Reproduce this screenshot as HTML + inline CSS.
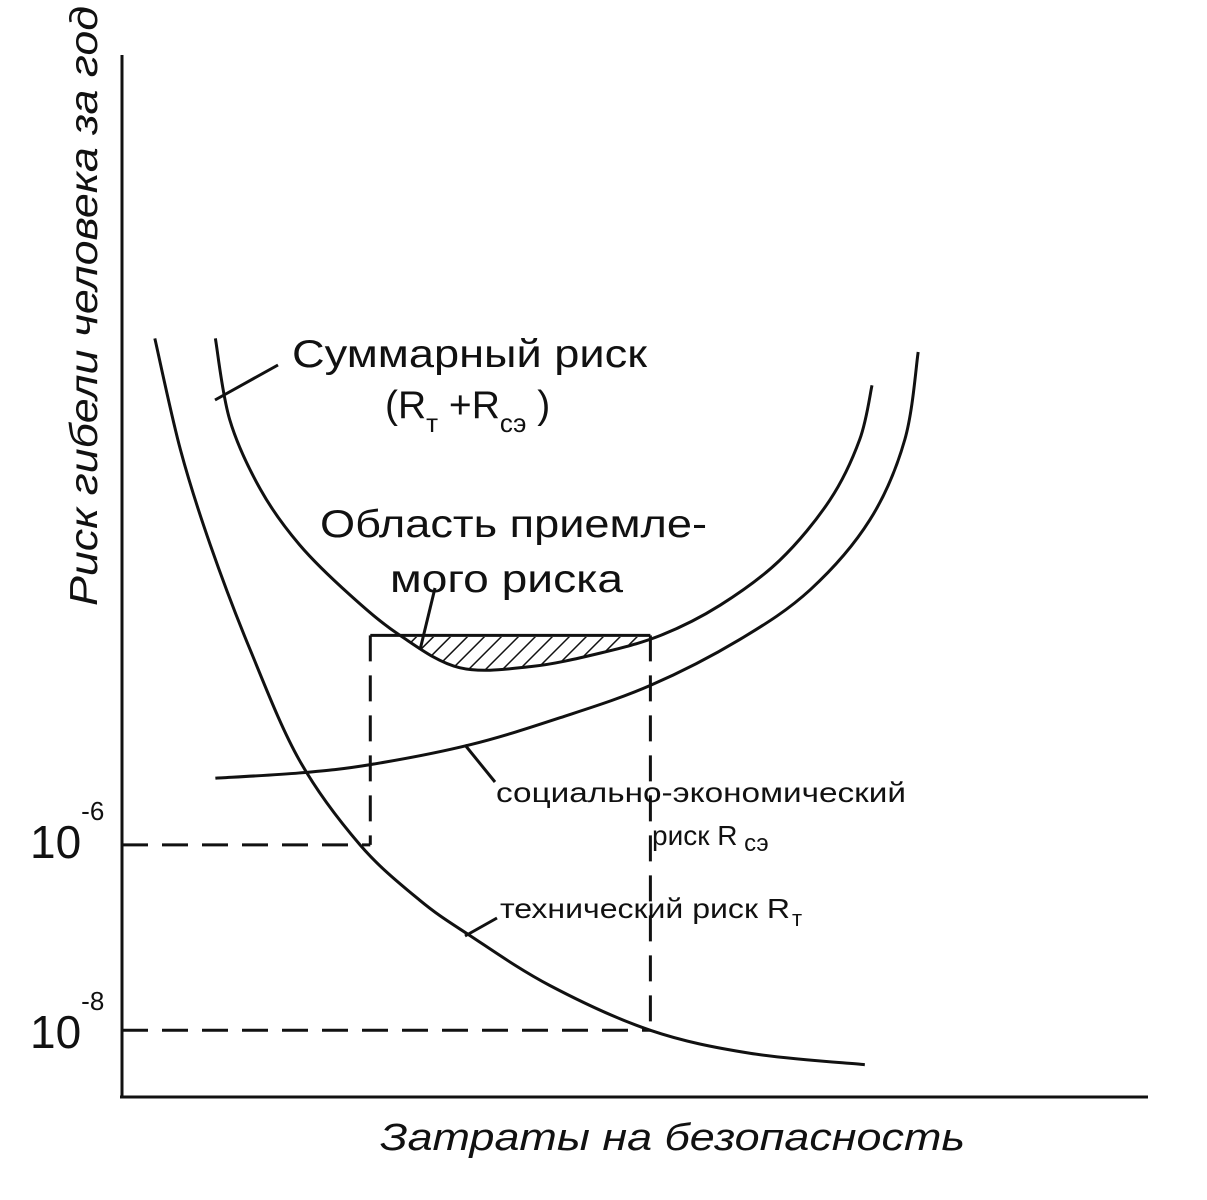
<!DOCTYPE html>
<html><head><meta charset="utf-8"><style>
html,body{margin:0;padding:0;background:#fff}
svg{display:block}
text{font-family:"Liberation Sans",sans-serif;fill:#111}
</style></head><body>
<svg id="chart" width="1207" height="1200" viewBox="0 0 1207 1200">
<defs>
<pattern id="hatch" patternUnits="userSpaceOnUse" width="12" height="12" patternTransform="rotate(45)">
<line x1="0" y1="0" x2="0" y2="12" stroke="#111" stroke-width="3"/></pattern>
<clipPath id="hclip"><rect x="372" y="637" width="280" height="80"/></clipPath>
</defs>
<g id="axes">
<line x1="122" y1="55" x2="122" y2="1098" stroke="#111" stroke-width="3"/>
<line x1="120" y1="1097" x2="1148" y2="1097" stroke="#111" stroke-width="3"/>
</g>
<g id="marks"></g>
<g id="labels">
<text transform="translate(97,606) rotate(-90)" font-size="39" font-style="italic" textLength="600" lengthAdjust="spacingAndGlyphs">Риск гибели человека за год</text>
<text x="380" y="1150" font-size="38" font-style="italic" textLength="585" lengthAdjust="spacingAndGlyphs">Затраты на безопасность</text>
<text x="30" y="858" font-size="46">10<tspan font-size="26" dy="-38">-6</tspan></text>
<text x="30" y="1048" font-size="46">10<tspan font-size="26" dy="-38">-8</tspan></text>
<text x="292" y="367" font-size="39" textLength="355" lengthAdjust="spacingAndGlyphs">Суммарный риск</text>
<text x="385" y="418" font-size="39">(R<tspan font-size="26" dy="14">т</tspan><tspan dy="-14"> +R</tspan><tspan font-size="26" dy="14">сэ</tspan><tspan dy="-14"> )</tspan></text>
<text x="320" y="537" font-size="39" textLength="387" lengthAdjust="spacingAndGlyphs">Область приемле-</text>
<text x="390" y="592" font-size="39" textLength="233" lengthAdjust="spacingAndGlyphs">мого риска</text>
<text x="496" y="802" font-size="28" textLength="410" lengthAdjust="spacingAndGlyphs">социально-экономический</text>
<text x="652" y="845" font-size="28">риск R<tspan font-size="24" dy="6"> сэ</tspan></text>
<text x="500" y="918" font-size="28" textLength="290" lengthAdjust="spacingAndGlyphs">технический риск R</text>
<text x="792" y="926" font-size="22">т</text>
</g>
</svg>
<script>
// values in domain units (x: cost 0..100, y: risk 0..100 in arbitrary log scale)
const techX=[3.2,5.7,8.6,12.5,17.3,23.2,29,33.9,41.7,51.5,61.2,72.4];
const techY=[72.8,62.1,53,42.9,32.3,24.2,18.9,15.5,10.7,6.4,4.2,3.1];
const totalX=[9.1,10.5,13.5,17.3,22.2,27.1,32.9,39.8,46.6,52.5,58.3,64.1,69,71.9,73.1];
const totalY=[72.8,65,58.3,53,48.2,44.3,41.2,41.3,42.6,44.3,47.2,51.5,57.3,63.1,68.3];
const socioX=[9.1,17.3,24.2,33.9,42.7,51.5,60.2,67.1,72.9,76.3,77.6];
const socioY=[30.6,31.1,31.9,33.8,36.4,39.5,43.9,48.7,55.4,63.1,71.5];
const dashX=[24.2,51.5];
const dashY=[24.2,6.4];
const acceptY=44.3;
const xs=v=>122+v*10.26, ys=v=>1097-v*10.42;
const NS="http://www.w3.org/2000/svg";
const g=document.getElementById('marks');
function smooth(X,Y){const p=X.map((x,i)=>[xs(x),ys(Y[i])]);let d=`M${p[0][0]},${p[0][1]}`;
for(let i=0;i<p.length-1;i++){const p0=p[i-1]||p[i],p1=p[i],p2=p[i+1],p3=p[i+2]||p2;
d+=` C${p1[0]+(p2[0]-p0[0])/6},${p1[1]+(p2[1]-p0[1])/6} ${p2[0]-(p3[0]-p1[0])/6},${p2[1]-(p3[1]-p1[1])/6} ${p2[0]},${p2[1]}`;}return d;}
function add(tag,attrs,name){const e=document.createElementNS(NS,tag);for(const k in attrs)e.setAttribute(k,attrs[k]);


g.appendChild(e);return e;}
const totalPath=smooth(totalX,totalY);
add('path',{d:totalPath+' Z',fill:'url(#hatch)',stroke:'none','clip-path':'url(#hclip)'},'acceptable-risk-area');
add('line',{x1:xs(dashX[0]),y1:ys(acceptY),x2:xs(dashX[1]),y2:ys(acceptY),stroke:'#111','stroke-width':3},'acceptable-risk-top');
add('path',{d:smooth(techX,techY),fill:'none',stroke:'#111','stroke-width':3},'technical-risk-curve');
add('path',{d:totalPath,fill:'none',stroke:'#111','stroke-width':3},'total-risk-curve');
add('path',{d:smooth(socioX,socioY),fill:'none',stroke:'#111','stroke-width':3},'socio-economic-risk-curve');
dashX.forEach((x,i)=>{
add('line',{x1:xs(x),y1:ys(acceptY),x2:xs(x),y2:ys(dashY[i]),stroke:'#111','stroke-width':3,'stroke-dasharray':'26 14'},'dash-vertical-'+i);
add('line',{x1:122,y1:ys(dashY[i]),x2:xs(x),y2:ys(dashY[i]),stroke:'#111','stroke-width':3,'stroke-dasharray':'26 14'},'dash-horizontal-'+i);
});
[[215,400,278,365,'total-leader'],[420,650,435,588,'area-leader'],[465,745,495,782,'socio-leader'],[465,936,497,918,'tech-leader']].forEach(l=>{
add('line',{x1:l[0],y1:l[1],x2:l[2],y2:l[3],stroke:'#111','stroke-width':3},l[4]);});
</script>
</body></html>
